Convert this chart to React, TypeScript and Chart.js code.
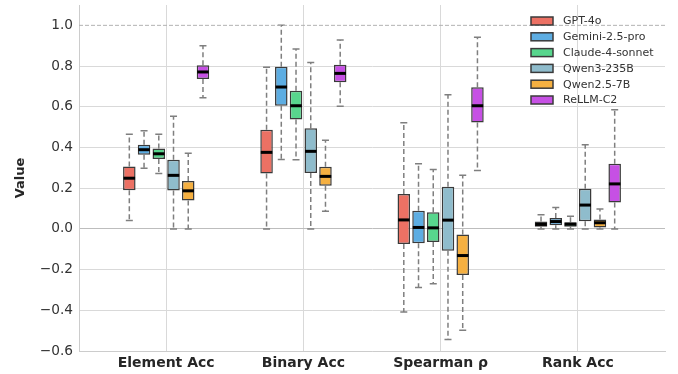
import React, { useEffect, useRef } from "react";
import { Chart, registerables } from "chart.js";

Chart.register(...registerables);

const categories = ["Element Acc", "Binary Acc", "Spearman ρ", "Rank Acc"];
const models = ["GPT-4o", "Gemini-2.5-pro", "Claude-4-sonnet", "Qwen3-235B", "Qwen2.5-7B", "ReLLM-C2"];
const fillColors = ["#EC7164", "#5DADE2", "#58D68D", "#8FBCCC", "#F5B041", "#C650E4"];
const yTicks = [-0.6, -0.4, -0.2, 0.0, 0.2, 0.4, 0.6, 0.8, 1.0];
const referenceLine = 1.0;

// [model][category]
const whiskerLow = [
  [0.041, 0.0, -0.408, 0.0],
  [0.298, 0.341, -0.288, 0.0],
  [0.272, 0.34, -0.27, 0.0],
  [0.0, 0.0, -0.543, 0.0],
  [0.0, 0.087, -0.498, 0.0],
  [0.644, 0.602, 0.287, 0.0],
];
const quartile1 = [
  [0.19, 0.272, -0.074, 0.01],
  [0.364, 0.605, -0.07, 0.018],
  [0.343, 0.538, -0.064, 0.01],
  [0.189, 0.274, -0.108, 0.038],
  [0.14, 0.212, -0.226, 0.007],
  [0.736, 0.72, 0.523, 0.13],
];
const medians = [
  [0.249, 0.376, 0.044, 0.022],
  [0.389, 0.697, 0.007, 0.036],
  [0.369, 0.605, 0.005, 0.023],
  [0.263, 0.381, 0.043, 0.117],
  [0.187, 0.258, -0.131, 0.03],
  [0.771, 0.764, 0.605, 0.221],
];
const quartile3 = [
  [0.307, 0.487, 0.172, 0.036],
  [0.413, 0.797, 0.089, 0.053],
  [0.395, 0.679, 0.082, 0.033],
  [0.34, 0.495, 0.207, 0.197],
  [0.235, 0.305, -0.028, 0.046],
  [0.804, 0.807, 0.696, 0.32],
];
const whiskerHigh = [
  [0.465, 0.794, 0.521, 0.069],
  [0.482, 1.0, 0.32, 0.105],
  [0.465, 0.884, 0.292, 0.062],
  [0.554, 0.817, 0.659, 0.413],
  [0.371, 0.435, 0.263, 0.098],
  [0.9, 0.928, 0.941, 0.585],
];

const FONT = "'DejaVu Sans', sans-serif";

const boxPlugin = {
  id: "boxWhiskers",
  beforeDatasetsDraw(chart: any) {
    const ctx = chart.ctx;
    const yScale = chart.scales.y;
    ctx.save();
    models.forEach((_, d) => {
      const meta = chart.getDatasetMeta(d);
      meta.data.forEach((el: any, i: number) => {
        const { x, width } = el.getProps(["x", "width"], true);
        const yHi = yScale.getPixelForValue(whiskerHigh[d][i]);
        const yQ3 = yScale.getPixelForValue(quartile3[d][i]);
        const yQ1 = yScale.getPixelForValue(quartile1[d][i]);
        const yLo = yScale.getPixelForValue(whiskerLow[d][i]);
        ctx.strokeStyle = "#7f7f7f";
        ctx.lineWidth = 1.5;
        ctx.setLineDash([5, 3]);
        ctx.beginPath();
        ctx.moveTo(x, yQ3);
        ctx.lineTo(x, yHi);
        ctx.moveTo(x, yQ1);
        ctx.lineTo(x, yLo);
        ctx.stroke();
        ctx.setLineDash([]);
        const cw = width * 0.28;
        ctx.beginPath();
        ctx.moveTo(x - cw, yHi);
        ctx.lineTo(x + cw, yHi);
        ctx.moveTo(x - cw, yLo);
        ctx.lineTo(x + cw, yLo);
        ctx.stroke();
      });
    });
    ctx.restore();
  },
  afterDatasetsDraw(chart: any) {
    const ctx = chart.ctx;
    const yScale = chart.scales.y;
    ctx.save();
    models.forEach((_, d) => {
      const meta = chart.getDatasetMeta(d);
      meta.data.forEach((el: any, i: number) => {
        const { x, width } = el.getProps(["x", "width"], true);
        const ym = yScale.getPixelForValue(medians[d][i]);
        ctx.strokeStyle = "#000000";
        ctx.lineWidth = 3;
        ctx.beginPath();
        ctx.moveTo(x - width / 2 + 0.5, ym);
        ctx.lineTo(x + width / 2 - 0.5, ym);
        ctx.stroke();
      });
    });
    ctx.restore();
  },
  afterDraw(chart: any) {
    const ctx = chart.ctx;
    ctx.save();
    const x0 = 531;
    const y0 = 21;
    const rowH = 15.8;
    models.forEach((m, d) => {
      const yc = y0 + d * rowH;
      ctx.fillStyle = fillColors[d];
      ctx.fillRect(x0, yc - 4, 22, 8);
      ctx.strokeStyle = "#3a3a3a";
      ctx.lineWidth = 1.5;
      ctx.strokeRect(x0, yc - 4, 22, 8);
      ctx.fillStyle = "#333333";
      ctx.font = `11px ${FONT}`;
      ctx.textBaseline = "middle";
      ctx.textAlign = "left";
      ctx.fillText(m, x0 + 32, yc + 0.5);
    });
    ctx.restore();
  },
};

export default function App() {
  const canvasRef = useRef<HTMLCanvasElement | null>(null);

  useEffect(() => {
    if (!canvasRef.current) return;
    const barSets = models.map((m, d) => ({
      type: "bar" as const,
      label: m,
      data: categories.map((_, i) => ({ x: i, y: [quartile1[d][i], quartile3[d][i]] })),
      backgroundColor: fillColors[d],
      borderColor: "#3a3a3a",
      borderWidth: 1.5,
      borderSkipped: false,
      categoryPercentage: 0.644,
      barPercentage: 0.85,
      order: 1,
    }));
    const chart = new Chart(canvasRef.current, {
      type: "bar",
      data: {
        datasets: [
          ...barSets,
          {
            type: "line" as const,
            label: "ref",
            data: [
              { x: -0.635, y: referenceLine },
              { x: 3.635, y: referenceLine },
            ],
            borderColor: "#b3b3b3",
            borderWidth: 1,
            borderDash: [4, 2],
            pointRadius: 0,
            order: 20,
          } as any,
        ],
      },
      options: {
        animation: false,
        responsive: true,
        maintainAspectRatio: false,
        devicePixelRatio: 1,
        layout: { padding: { top: 5, right: 13, left: 0, bottom: 0 } },
        plugins: { legend: { display: false }, tooltip: { enabled: false } },
        scales: {
          x: {
            type: "linear",
            min: -0.635,
            max: 3.635,
            offset: false,
            afterBuildTicks: (scale: any) => {
              scale.ticks = categories.map((_, i) => ({ value: i }));
            },
            afterFit: (scale: any) => {
              scale.height = 23;
              scale.paddingLeft = 0;
              scale.paddingRight = 0;
            },
            ticks: {
              callback: (v: any) => categories[v as number] ?? "",
              font: { family: FONT, size: 14, weight: "bold" },
              color: "#262626",
              padding: 4,
              maxRotation: 0,
              autoSkip: false,
            },
            grid: { color: "#d9d9d9", lineWidth: 1, drawTicks: false, offset: false },
            border: { color: "#cccccc", width: 1 },
          },
          y: {
            type: "linear",
            min: -0.6,
            max: 1.1,
            afterBuildTicks: (scale: any) => {
              scale.ticks = yTicks.map((v) => ({ value: v }));
            },
            afterFit: (scale: any) => {
              scale.width = 79;
              scale.paddingTop = 0;
              scale.paddingBottom = 0;
            },
            ticks: {
              callback: (v: any) => Number(v).toFixed(1).replace("-", "\u2212"),
              font: { family: FONT, size: 13.7 },
              color: "#333333",
              padding: 6,
            },
            grid: {
              color: (c: any) =>
                c.tick && Math.abs(c.tick.value - 1) < 1e-6
                  ? "rgba(0,0,0,0)"
                  : c.tick && Math.abs(c.tick.value) < 1e-6
                  ? "#bdbdbd"
                  : "#d9d9d9",
              lineWidth: 1,
              drawTicks: false,
            },
            border: { color: "#cccccc", width: 1 },
            title: {
              display: true,
              text: "Value",
              font: { family: FONT, size: 13, weight: "bold" },
              color: "#262626",
              padding: { top: 13, bottom: 0 },
            },
          },
        },
      },
      plugins: [boxPlugin],
    } as any);
    return () => chart.destroy();
  }, []);

  return (
    <div style={{ position: "fixed", left: 0, top: 0, width: 678, height: 374, background: "#fff" }}>
      <canvas ref={canvasRef} />
    </div>
  );
}
